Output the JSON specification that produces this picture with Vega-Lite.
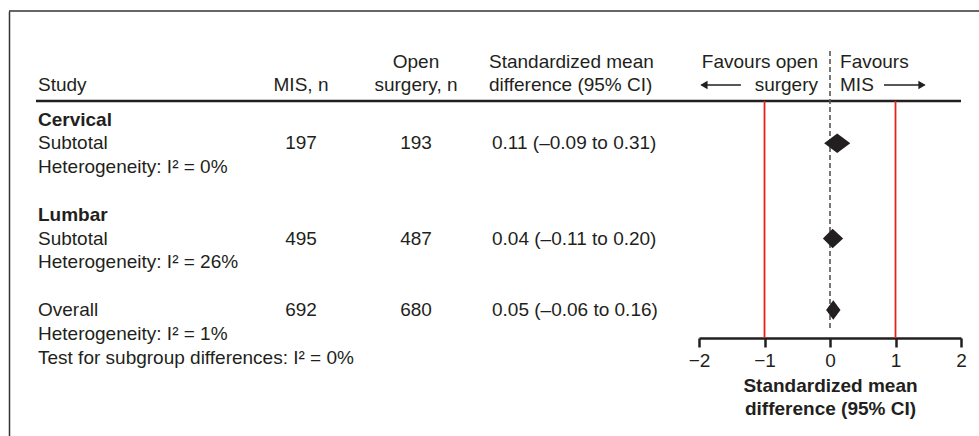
{
  "$schema": "https://vega.github.io/schema/vega-lite/v6.json",
  "background": "white",
  "padding": {"left": 8, "top": 10, "right": 0, "bottom": 0},
  "spacing": 0,
  "bounds": "flush",
  "config": {
    "view": {"stroke": null},
    "text": {"font": "Liberation Sans", "fontSize": 19, "fill": "#231f20", "baseline": "middle"}
  },
  "datasets": {
    "rows": [
      {"line": 1, "study": "Cervical", "kind": "group"},
      {"line": 2, "study": "Subtotal", "kind": "estimate", "group": "Cervical", "mis": 197, "open": 193, "smd": "0.11 (–0.09 to 0.31)", "est": 0.11, "lo": -0.09, "hi": 0.31},
      {"line": 3, "study": "Heterogeneity: I² = 0%", "kind": "note"},
      {"line": 5, "study": "Lumbar", "kind": "group"},
      {"line": 6, "study": "Subtotal", "kind": "estimate", "group": "Lumbar", "mis": 495, "open": 487, "smd": "0.04 (–0.11 to 0.20)", "est": 0.04, "lo": -0.11, "hi": 0.20},
      {"line": 7, "study": "Heterogeneity: I² = 26%", "kind": "note"},
      {"line": 9, "study": "Overall", "kind": "estimate", "group": "Overall", "mis": 692, "open": 680, "smd": "0.05 (–0.06 to 0.16)", "est": 0.05, "lo": -0.06, "hi": 0.16},
      {"line": 10, "study": "Heterogeneity: I² = 1%", "kind": "note"},
      {"line": 11, "study": "Test for subgroup differences: I² = 0%", "kind": "note"}
    ],
    "thresholds": [{"threshold": -1}, {"threshold": 1}]
  },
  "hconcat": [
    {
      "width": 27, "height": 426,
      "layer": [
        {"data": {"values": [{}]}, "mark": {"type": "rule", "color": "#333333", "strokeWidth": 1.5},
         "encoding": {"y": {"datum": -3.559, "type": "quantitative", "scale": {"domain": [-3.559, 14.34], "reverse": true, "nice": false, "zero": false},
           "axis": {"domain": true, "domainColor": "#333333", "domainWidth": 1.5, "ticks": false, "labels": false, "grid": false, "title": null}}}}
      ]
    },
    {
      "width": 215, "height": 426,
      "layer": [
        {"data": {"values": [{}]}, "mark": {"type": "rule", "color": "#333333", "strokeWidth": 1.5},
         "encoding": {"y": {"datum": -3.559, "type": "quantitative", "scale": {"domain": [-3.559, 14.34], "reverse": true, "nice": false, "zero": false}, "axis": null}}},
        {"data": {"values": [{}]}, "mark": {"type": "rule", "color": "#231f20", "strokeWidth": 2.5},
         "encoding": {"y": {"datum": 0.223, "type": "quantitative", "axis": null}}},
        {"data": {"values": [{}]}, "mark": {"type": "text", "align": "left", "dx": 2, "text": "Study"},
         "encoding": {"x": {"datum": 0, "type": "quantitative", "scale": {"domain": [0, 1]}, "axis": null},
                      "y": {"datum": -0.45, "type": "quantitative", "axis": null}}},
        {"data": {"name": "rows"}, "transform": [{"filter": "datum.kind === 'group'"}],
         "mark": {"type": "text", "align": "left", "dx": 2, "fontWeight": "bold"},
         "encoding": {"x": {"datum": 0, "type": "quantitative", "axis": null},
                      "y": {"field": "line", "type": "quantitative", "axis": null},
                      "text": {"field": "study", "type": "nominal"}}},
        {"data": {"name": "rows"}, "transform": [{"filter": "datum.kind !== 'group'"}],
         "mark": {"type": "text", "align": "left", "dx": 2},
         "encoding": {"x": {"datum": 0, "type": "quantitative", "axis": null},
                      "y": {"field": "line", "type": "quantitative", "axis": null},
                      "text": {"field": "study", "type": "nominal"}}}
      ]
    },
    {
      "width": 100, "height": 426,
      "layer": [
        {"data": {"values": [{}]}, "mark": {"type": "rule", "color": "#333333", "strokeWidth": 1.5},
         "encoding": {"y": {"datum": -3.559, "type": "quantitative", "scale": {"domain": [-3.559, 14.34], "reverse": true, "nice": false, "zero": false}, "axis": null}}},
        {"data": {"values": [{}]}, "mark": {"type": "rule", "color": "#231f20", "strokeWidth": 2.5},
         "encoding": {"y": {"datum": 0.223, "type": "quantitative", "axis": null}}},
        {"data": {"values": [{}]}, "mark": {"type": "text", "text": "MIS, n"},
         "encoding": {"y": {"datum": -0.45, "type": "quantitative", "axis": null}}},
        {"data": {"name": "rows"}, "transform": [{"filter": "isValid(datum.mis)"}],
         "mark": {"type": "text"},
         "encoding": {"y": {"field": "line", "type": "quantitative", "axis": null},
                      "text": {"field": "mis", "type": "nominal"}}}
      ]
    },
    {
      "width": 130, "height": 426,
      "layer": [
        {"data": {"values": [{}]}, "mark": {"type": "rule", "color": "#333333", "strokeWidth": 1.5},
         "encoding": {"y": {"datum": -3.559, "type": "quantitative", "scale": {"domain": [-3.559, 14.34], "reverse": true, "nice": false, "zero": false}, "axis": null}}},
        {"data": {"values": [{}]}, "mark": {"type": "rule", "color": "#231f20", "strokeWidth": 2.5},
         "encoding": {"y": {"datum": 0.223, "type": "quantitative", "axis": null}}},
        {"data": {"values": [{}]}, "mark": {"type": "text", "text": "Open"},
         "encoding": {"y": {"datum": -1.416, "type": "quantitative", "axis": null}}},
        {"data": {"values": [{}]}, "mark": {"type": "text", "text": "surgery, n"},
         "encoding": {"y": {"datum": -0.45, "type": "quantitative", "axis": null}}},
        {"data": {"name": "rows"}, "transform": [{"filter": "isValid(datum.open)"}],
         "mark": {"type": "text"},
         "encoding": {"y": {"field": "line", "type": "quantitative", "axis": null},
                      "text": {"field": "open", "type": "nominal"}}}
      ]
    },
    {
      "width": 218, "height": 426,
      "layer": [
        {"data": {"values": [{}]}, "mark": {"type": "rule", "color": "#333333", "strokeWidth": 1.5},
         "encoding": {"y": {"datum": -3.559, "type": "quantitative", "scale": {"domain": [-3.559, 14.34], "reverse": true, "nice": false, "zero": false}, "axis": null}}},
        {"data": {"values": [{}]}, "mark": {"type": "rule", "color": "#231f20", "strokeWidth": 2.5},
         "encoding": {"y": {"datum": 0.223, "type": "quantitative", "axis": null}}},
        {"data": {"values": [{}]}, "mark": {"type": "text", "align": "left", "dx": 8, "text": "Standardized mean"},
         "encoding": {"x": {"datum": 0, "type": "quantitative", "scale": {"domain": [0, 1]}, "axis": null},
                      "y": {"datum": -1.416, "type": "quantitative", "axis": null}}},
        {"data": {"values": [{}]}, "mark": {"type": "text", "align": "left", "dx": 8, "text": "difference (95% CI)"},
         "encoding": {"x": {"datum": 0, "type": "quantitative", "axis": null},
                      "y": {"datum": -0.45, "type": "quantitative", "axis": null}}},
        {"data": {"name": "rows"}, "transform": [{"filter": "isValid(datum.smd)"}],
         "mark": {"type": "text", "align": "left", "dx": 11},
         "encoding": {"x": {"datum": 0, "type": "quantitative", "axis": null},
                      "y": {"field": "line", "type": "quantitative", "axis": null},
                      "text": {"field": "smd", "type": "nominal"}}}
      ]
    },
    {
      "width": 262, "height": 426,
      "layer": [
        {"data": {"values": [{}]}, "mark": {"type": "rule", "color": "#333333", "strokeWidth": 1.5},
         "encoding": {"x": {"datum": -2, "type": "quantitative", "scale": {"domain": [-2, 2], "nice": false, "zero": false},
                            "axis": {"orient": "bottom", "offset": -99, "values": [-2, -1, 0, 1, 2], "format": "d", "domainColor": "#231f20", "domainWidth": 2.5, "tickColor": "#231f20", "tickWidth": 2.5, "tickSize": 9, "labelFont": "Liberation Sans", "labelFontSize": 19, "labelColor": "#231f20", "labelPadding": 4, "labelFlush": false, "labelOverlap": false, "grid": false, "title": ["Standardized mean", "difference (95% CI)"], "titleFont": "Liberation Sans", "titleFontSize": 19, "titleFontWeight": "bold", "titleColor": "#231f20", "titleLineHeight": 23, "titlePadding": 6}},
                      "x2": {"datum": 2.4},
                      "y": {"datum": -3.559, "type": "quantitative", "scale": {"domain": [-3.559, 14.34], "reverse": true, "nice": false, "zero": false}, "axis": null}}},
        {"data": {"values": [{}]}, "mark": {"type": "rule", "color": "#231f20", "strokeWidth": 2.5},
         "encoding": {"y": {"datum": 0.223, "type": "quantitative", "axis": null}}},
        {"data": {"name": "thresholds"}, "mark": {"type": "rule", "color": "#e2231a", "strokeWidth": 1.8},
         "encoding": {"x": {"field": "threshold", "type": "quantitative"},
                      "y": {"datum": 0.223, "type": "quantitative", "axis": null},
                      "y2": {"datum": 10.18}}},
        {"data": {"values": [{}]}, "mark": {"type": "rule", "color": "#555555", "strokeWidth": 1.6, "strokeDash": [5, 3]},
         "encoding": {"x": {"datum": 0, "type": "quantitative"},
                      "y": {"datum": -1.878, "type": "quantitative", "axis": null},
                      "y2": {"datum": 9.76}}},
        {"data": {"values": [{}]}, "mark": {"type": "text", "align": "right", "text": "Favours open"},
         "encoding": {"x": {"datum": -0.183, "type": "quantitative"},
                      "y": {"datum": -1.416, "type": "quantitative", "axis": null}}},
        {"data": {"values": [{}]}, "mark": {"type": "text", "align": "right", "text": "surgery"},
         "encoding": {"x": {"datum": -0.183, "type": "quantitative"},
                      "y": {"datum": -0.45, "type": "quantitative", "axis": null}}},
        {"data": {"values": [{}]}, "mark": {"type": "text", "align": "left", "text": "Favours"},
         "encoding": {"x": {"datum": 0.153, "type": "quantitative"},
                      "y": {"datum": -1.416, "type": "quantitative", "axis": null}}},
        {"data": {"values": [{}]}, "mark": {"type": "text", "align": "left", "text": "MIS"},
         "encoding": {"x": {"datum": 0.153, "type": "quantitative"},
                      "y": {"datum": -0.45, "type": "quantitative", "axis": null}}},
        {"data": {"values": [{}]}, "mark": {"type": "rule", "color": "#231f20", "strokeWidth": 1.5},
         "encoding": {"x": {"datum": -1.96, "type": "quantitative"}, "x2": {"datum": -1.36},
                      "y": {"datum": -0.45, "type": "quantitative", "axis": null}}},
        {"data": {"values": [{}]}, "mark": {"type": "point", "shape": "triangle-left", "filled": true, "color": "#231f20", "size": 70, "opacity": 1},
         "encoding": {"x": {"datum": -1.925, "type": "quantitative"},
                      "y": {"datum": -0.45, "type": "quantitative", "axis": null}}},
        {"data": {"values": [{}]}, "mark": {"type": "rule", "color": "#231f20", "strokeWidth": 1.5},
         "encoding": {"x": {"datum": 0.824, "type": "quantitative"}, "x2": {"datum": 1.44},
                      "y": {"datum": -0.45, "type": "quantitative", "axis": null}}},
        {"data": {"values": [{}]}, "mark": {"type": "point", "shape": "triangle-right", "filled": true, "color": "#231f20", "size": 70, "opacity": 1},
         "encoding": {"x": {"datum": 1.405, "type": "quantitative"},
                      "y": {"datum": -0.45, "type": "quantitative", "axis": null}}},
        {"data": {"name": "rows"}, "transform": [{"filter": "isValid(datum.est)"}],
         "mark": {"type": "point", "filled": true, "opacity": 1, "size": 380, "color": "#231f20", "strokeWidth": 0},
         "encoding": {"x": {"field": "est", "type": "quantitative"},
                      "y": {"field": "line", "type": "quantitative", "axis": null},
                      "shape": {"field": "group", "type": "nominal", "legend": null,
                                "scale": {"domain": ["Cervical", "Lumbar", "Overall"],
                                          "range": ["M-1.34,0L0,-1L1.34,0L0,1Z", "M-1.0,0L0,-1L1.08,0L0,1Z", "M-0.74,0L0,-1L0.74,0L0,1Z"]}}}}
      ]
    }
  ]
}
